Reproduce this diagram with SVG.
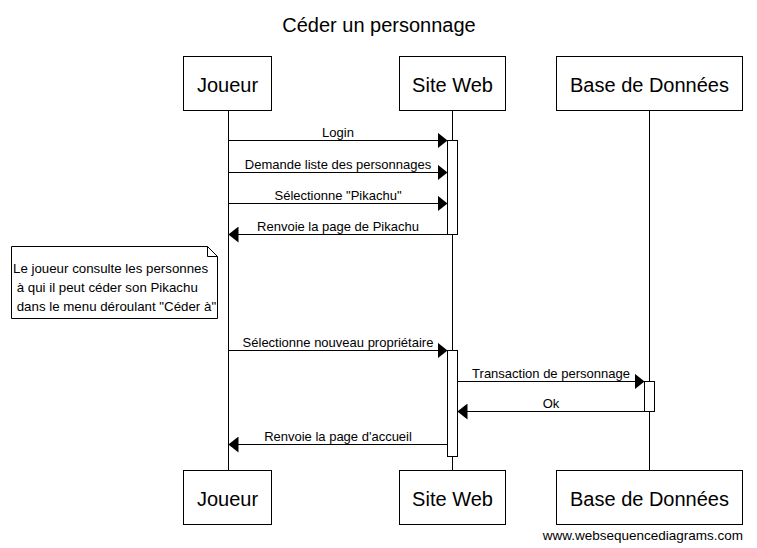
<svg xmlns="http://www.w3.org/2000/svg" width="757" height="548" viewBox="0 0 757 548">
<style>
text{font-family:"Liberation Sans",Arial,sans-serif;fill:#000}
.title{font-size:20px;text-anchor:middle}
.actor{font-size:20px;text-anchor:middle}
.msg{font-size:13px;text-anchor:middle}
.note{font-size:13.3px}
.box{fill:#fff;stroke:#000;stroke-width:1}
.life{stroke:#000;stroke-width:1;fill:none}
.act{fill:#fff;stroke:#000;stroke-width:1}
.arrow{stroke:#000;stroke-width:1;fill:none;marker-end:url(#ah)}
</style>
<defs>
<marker id="ah" markerUnits="userSpaceOnUse" markerWidth="10" markerHeight="16" refX="10" refY="8" orient="auto">
<path d="M0,0 L10,8 L0,16 Z" fill="#000"/>
</marker>
</defs>
<rect width="757" height="548" fill="#fff"/>
<text class="title" x="379" y="32">Céder un personnage</text>
<g id="lifelines">
<line class="life" x1="228.5" y1="110" x2="228.5" y2="470"/>
<line class="life" x1="452.5" y1="110" x2="452.5" y2="470"/>
<line class="life" x1="649.5" y1="110" x2="649.5" y2="470"/>
</g>
<g id="joueur">
<rect class="box" x="183.5" y="56.5" width="88" height="54"/>
<text class="actor" x="227.5" y="92">Joueur</text>
<rect class="box" x="183.5" y="470.5" width="88" height="54"/>
<text class="actor" x="227.5" y="506">Joueur</text>
</g>
<g id="siteweb">
<rect class="box" x="399.5" y="56.5" width="106" height="54"/>
<text class="actor" x="452.5" y="92">Site Web</text>
<rect class="box" x="399.5" y="470.5" width="106" height="54"/>
<text class="actor" x="452.5" y="506">Site Web</text>
</g>
<g id="basededonnees">
<rect class="box" x="556.5" y="56.5" width="186" height="54"/>
<text class="actor" x="649.5" y="92">Base de Données</text>
<rect class="box" x="556.5" y="470.5" width="186" height="54"/>
<text class="actor" x="649.5" y="506">Base de Données</text>
</g>
<g id="activations">
<rect class="act" x="447.5" y="140.5" width="10" height="94"/>
<rect class="act" x="447.5" y="350.5" width="10" height="106"/>
<rect class="act" x="644.5" y="381.5" width="10" height="30"/>
</g>
<g id="note">
<path class="box" d="M11.5,246.5 H207.5 L217.5,256.5 V318.5 H11.5 Z"/>
<path class="life" d="M207.5,246.5 V256.5 H217.5"/>
<text class="note" xml:space="preserve" x="13" y="273">Le joueur consulte les personnes</text>
<text class="note" xml:space="preserve" x="13" y="292"> à qui il peut céder son Pikachu</text>
<text class="note" xml:space="preserve" x="13" y="311"> dans le menu déroulant "Céder à"</text>
</g>
<g id="connectors">
<line class="arrow" x1="228.5" y1="140.5" x2="447.5" y2="140.5"/>
<text class="msg" x="338" y="136.5">Login</text>
<line class="arrow" x1="228.5" y1="172.5" x2="447.5" y2="172.5"/>
<text class="msg" x="338" y="168.5">Demande liste des personnages</text>
<line class="arrow" x1="228.5" y1="203.5" x2="447.5" y2="203.5"/>
<text class="msg" x="338" y="199.5">Sélectionne "Pikachu"</text>
<line class="arrow" x1="447.5" y1="234.5" x2="228.5" y2="234.5"/>
<text class="msg" x="338" y="230.5">Renvoie la page de Pikachu</text>
<line class="arrow" x1="228.5" y1="350.5" x2="447.5" y2="350.5"/>
<text class="msg" x="338" y="346.5">Sélectionne nouveau propriétaire</text>
<line class="arrow" x1="457.5" y1="381.5" x2="644.5" y2="381.5"/>
<text class="msg" x="551" y="377.5">Transaction de personnage</text>
<line class="arrow" x1="644.5" y1="411.5" x2="457.5" y2="411.5"/>
<text class="msg" x="551" y="407.5">Ok</text>
<line class="arrow" x1="447.5" y1="444.5" x2="228.5" y2="444.5"/>
<text class="msg" x="338" y="440.5">Renvoie la page d'accueil</text>
</g>
<text x="743" y="540" style="font-size:13.5px;text-anchor:end">www.websequencediagrams.com</text>
</svg>
